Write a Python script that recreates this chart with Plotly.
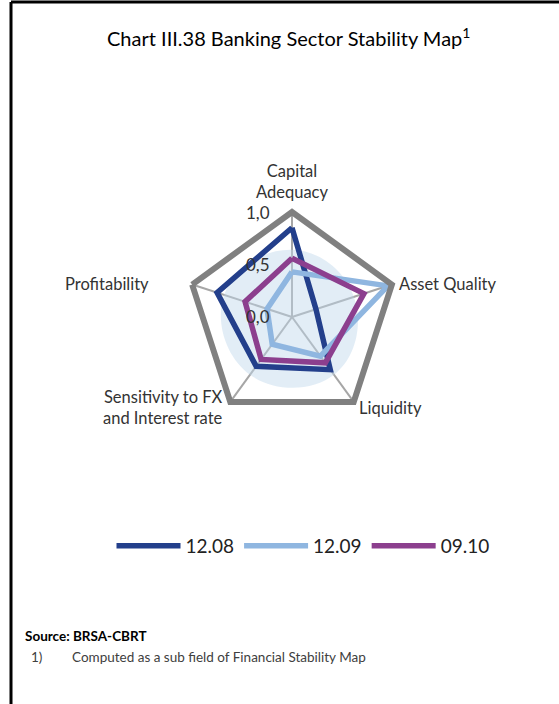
import plotly.graph_objects as go

# ── data ────────────────────────────────────────────────────────────────
categories = ["Capital Adequacy", "Asset Quality", "Liquidity",
              "Sensitivity to FX and Interest rate", "Profitability"]
cat_labels = ["Capital<br>Adequacy", "Asset Quality", "Liquidity",
              "Sensitivity to FX<br>and Interest rate", "Profitability"]

s_1208 = [0.85, 0.24, 0.62, 0.58, 0.75]
s_1209 = [0.43, 0.96, 0.46, 0.32, 0.25]
s_0910 = [0.56, 0.72, 0.54, 0.50, 0.47]
band = [0.64, 0.62, 0.68, 0.68, 0.68]   # soft shaded backdrop

radial_ticks = [0.0, 0.5, 1.0]

# ── style ───────────────────────────────────────────────────────────────
W, H = 559, 704
FONT = "Lato, 'Open Sans', sans-serif"
COLORS = {"12.08": "#233f8b", "12.09": "#8fb6e0", "09.10": "#8c3f8e"}


def px(x):
    return x / W


def py(y):
    return 1 - y / H


def closed(v):
    return v + v[:1]


theta = closed(categories)

fig = go.Figure()

fig.add_trace(go.Scatterpolar(
    r=closed(band), theta=theta, mode="lines",
    line=dict(width=0, shape="spline", smoothing=1.3),
    fill="toself", fillcolor="rgba(190,214,236,0.45)",
    showlegend=False, hoverinfo="skip",
))

for name, vals in [("12.08", s_1208), ("12.09", s_1209), ("09.10", s_0910)]:
    fig.add_trace(go.Scatterpolar(
        r=closed(vals), theta=theta, mode="lines", name=name,
        line=dict(color=COLORS[name], width=5.5),
    ))

# ── layout ──────────────────────────────────────────────────────────────
cx, cy, R = 292, 317, 105

fig.update_layout(
    width=W, height=H,
    margin=dict(l=0, r=0, t=0, b=0),
    paper_bgcolor="white",
    font=dict(family=FONT, color="#333333"),
    polar=dict(
        domain=dict(x=[px(cx - R), px(cx + R)], y=[py(cy + R), py(cy - R)]),
        gridshape="linear",
        bgcolor="rgba(0,0,0,0)",
        radialaxis=dict(
            range=[0, 1], tickvals=radial_ticks,
            showgrid=False, showline=False, ticks="", showticklabels=False,
            angle=90,
        ),
        angularaxis=dict(
            direction="clockwise", rotation=90,
            showticklabels=False, ticks="",
            showgrid=True, gridcolor="#a6a6a6", gridwidth=1.5,
            showline=True, linecolor="#808080", linewidth=6,
        ),
    ),
    legend=dict(
        orientation="h", x=px(303), xanchor="center", y=py(546), yanchor="middle",
        font=dict(size=19, color="#222222"), itemwidth=64,
        bgcolor="rgba(0,0,0,0)",
    ),
)

# radial tick labels, horizontal, left of the vertical spoke
for v in radial_ticks:
    fig.add_annotation(
        text=f"{v:.1f}".replace(".", ","), xref="paper", yref="paper",
        x=px(cx - 20), y=py(cy - v * R), xanchor="right", yanchor="middle",
        showarrow=False, font=dict(size=17, color="#333333"),
    )

# category labels
label_pos = [
    dict(x=px(292), y=py(204), xanchor="center", yanchor="bottom", align="center"),
    dict(x=px(397), y=py(284), xanchor="left", yanchor="middle", align="left"),
    dict(x=px(357), y=py(408), xanchor="left", yanchor="middle", align="left"),
    dict(x=px(225), y=py(407), xanchor="right", yanchor="middle", align="right"),
    dict(x=px(151), y=py(284), xanchor="right", yanchor="middle", align="right"),
]
for text, pos in zip(cat_labels, label_pos):
    fig.add_annotation(text=text, xref="paper", yref="paper", showarrow=False,
                       font=dict(size=16.5, color="#333333"), **pos)

# title
fig.add_annotation(
    text="Chart III.38 Banking Sector Stability Map<sup>1</sup>",
    xref="paper", yref="paper", x=px(288), y=py(37), showarrow=False,
    xanchor="center", yanchor="middle", font=dict(size=20, color="#000000"),
)

# source + footnote
fig.add_annotation(
    text="<b>Source: BRSA-CBRT</b>", xref="paper", yref="paper",
    x=px(23), y=py(636), xanchor="left", yanchor="middle", showarrow=False,
    font=dict(size=13.5, color="#000000"),
)
fig.add_annotation(
    text="1)", xref="paper", yref="paper",
    x=px(29), y=py(657), xanchor="left", yanchor="middle", showarrow=False,
    font=dict(size=13.5, color="#404040"),
)
fig.add_annotation(
    text="Computed as a sub field of Financial Stability Map", xref="paper", yref="paper",
    x=px(70), y=py(657), xanchor="left", yanchor="middle", showarrow=False,
    font=dict(size=13.5, color="#404040"),
)

# frame: top and left rule
fig.add_shape(type="line", xref="paper", yref="paper",
              x0=px(11), x1=1, y0=py(2), y1=py(2), line=dict(color="black", width=3))
fig.add_shape(type="line", xref="paper", yref="paper",
              x0=px(11), x1=px(11), y0=py(2), y1=0, line=dict(color="black", width=3))

fig.write_html("out.html", config={"displayModeBar": False},
               post_script="document.body.style.margin='0';")
